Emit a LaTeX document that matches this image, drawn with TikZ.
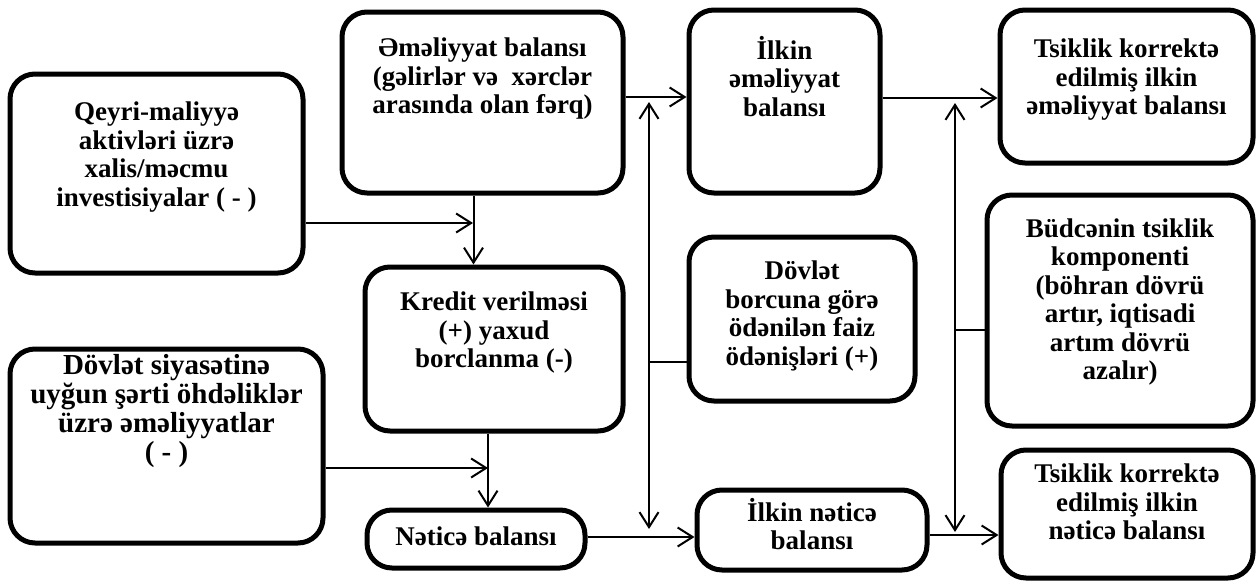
\documentclass[tikz,border=0pt]{standalone}
\usepackage{fontspec}
\setmainfont{Liberation Serif}
\usepackage{tikz}
\usetikzlibrary{arrows.meta,positioning}

\begin{document}
\begin{tikzpicture}[x=1pt,y=-1pt,
  every node/.style={font=\fontsize{27}{28.5}\selectfont\bfseries,align=center},
  box/.style={draw,line width=5pt,rounded corners=25pt,inner sep=3pt},
  arr/.style={-{Straight Barb[length=15pt,width=19pt]},line width=2pt},
  dbl/.style={{Straight Barb[length=15pt,width=19pt]}-{Straight Barb[length=15pt,width=19pt]},line width=2pt}]
\useasboundingbox (0,0) rectangle (1256,584);
% boxes
\node[box,minimum width=293pt,minimum height=199pt,text depth=39pt] (a) at (156.5,173.5) {Qeyri-maliyyə\\aktivləri üzrə\\xalis/məcmu\\investisiyalar ( - )};
\node[box,minimum width=281pt,minimum height=181pt,text depth=53pt] (b) at (482.5,102.5) {Əməliyyat balansı\\(gəlirlər və~ xərclər\\arasında olan fərq)};
\node[box,minimum width=191pt,minimum height=183pt,text depth=51pt] (c) at (784.5,101.5) {İlkin\\əməliyyat\\balansı};
\node[box,minimum width=253pt,minimum height=153pt,text depth=19pt] (d) at (1126.5,86.5) {Tsiklik korrektə\\edilmiş ilkin\\əməliyyat balansı};
\node[box,minimum width=258pt,minimum height=164pt,text depth=38pt] (e) at (494,349) {Kredit verilməsi\\(+) yaxud\\borclanma (-)};
\node[box,minimum width=226pt,minimum height=164pt,text depth=12pt] (f) at (802,319) {Dövlət\\borcuna görə\\ödənilən faiz\\ödənişləri (+)};
\node[box,minimum width=266pt,minimum height=231pt,text depth=23pt] (g) at (1120,310.5) {Büdcənin tsiklik\\komponenti\\(böhran dövrü\\artır, iqtisadi\\artım dövrü\\azalır)};
\node[box,minimum width=313pt,minimum height=194pt,text depth=76pt,font=\fontsize{29}{29}\selectfont\bfseries] (h) at (166.5,446) {Dövlət siyasətinə\\uyğun şərti öhdəliklər\\üzrə əməliyyatlar\\( - )};
\node[box,minimum width=218pt,minimum height=58pt,text depth=6pt] (i) at (476,539) {Nəticə balansı};
\node[box,minimum width=230pt,minimum height=80pt,text depth=12pt] (j) at (812,530) {İlkin nəticə\\balansı};
\node[box,minimum width=252pt,minimum height=128pt,text depth=24pt] (k) at (1127,514) {Tsiklik korrektə\\edilmiş ilkin\\nəticə balansı};
% junctions
\coordinate (ae) at (473,223); \coordinate (he) at (488,468);
\coordinate (bc) at (649,97); \coordinate (cd) at (955,98);
\coordinate (ij) at (649,537); \coordinate (jk) at (955,535);
\coordinate (v1t) at (649,102); \coordinate (v1b) at (649,529);
\coordinate (v2t) at (955,103); \coordinate (v2b) at (955,532);
\coordinate (fv) at (649,362); \coordinate (gv) at (955,330);
% connectors
\draw[arr] (a.east |- ae) -- (ae);
\draw[arr] ([xshift=-9pt]b.south) -- ([xshift=-9pt]b.south |- e.north);
\draw[arr] (h.east |- he) -- (he);
\draw[arr] ([xshift=-6pt]e.south) -- ([xshift=-6pt]e.south |- i.north);
\draw[arr] (b.east |- bc) -- (c.west |- bc);\draw[arr] (c.east |- cd) -- (d.west |- cd);
\draw[arr] (i.east |- ij) -- (j.west |- ij);\draw[arr] (j.east |- jk) -- (k.west |- jk);
\draw[dbl] (v1t) -- (v1b);\draw[dbl] (v2t) -- (v2b);
\draw[line width=2pt] (fv) -- (f.west |- fv);\draw[line width=2pt] (gv) -- (g.west |- gv);
\end{tikzpicture}
\end{document}
